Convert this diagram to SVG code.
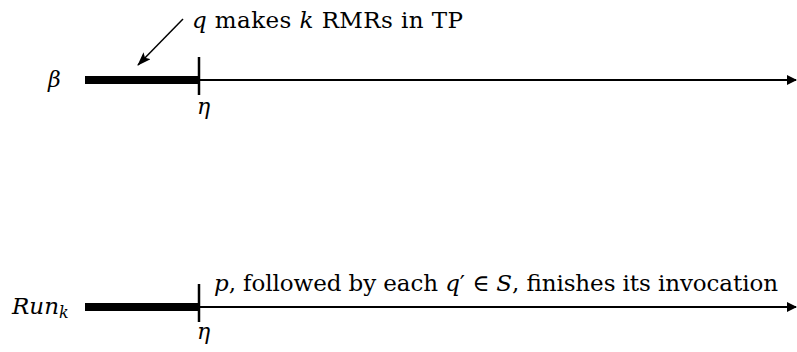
<svg xmlns="http://www.w3.org/2000/svg" width="797" height="352" viewBox="0 0 797 352">
<defs>
<marker id="ah" viewBox="0 0 10 10" refX="9" refY="5" markerWidth="10" markerHeight="10" markerUnits="userSpaceOnUse" orient="auto">
<path d="M0,0 L10,5 L0,10 z" fill="#000"/>
</marker>
<marker id="ah2" viewBox="0 0 14 10" refX="13" refY="5" markerWidth="14" markerHeight="10" markerUnits="userSpaceOnUse" orient="auto">
<path d="M0,0 L14,5 L0,10 L3,5 z" fill="#000"/>
</marker>
</defs>
<style>
.i { font-style: italic; }
.thin { stroke: #000; stroke-width: 2; fill: none; }
.bar { stroke: #000; stroke-width: 8; fill: none; }
.tick { stroke: #000; stroke-width: 2.5; fill: none; }
</style>
<g id="beta-timeline">
<text class="i" x="48" y="87" font-family="DejaVu Serif, serif" font-size="22">β</text>
<line class="bar" x1="85" y1="80" x2="199" y2="80"/>
<line class="tick" x1="199" y1="57" x2="199" y2="95"/>
<text class="i" x="197" y="114" font-family="DejaVu Serif, serif" font-size="22">η</text>
</g>
<g id="run-timeline">
<text class="i" x="12" y="314" font-family="DejaVu Serif, serif" font-size="23">Run<tspan font-size="16" dy="4">k</tspan></text>
<line class="bar" x1="85" y1="307" x2="199" y2="307"/>
<line class="tick" x1="199" y1="284" x2="199" y2="322"/>
<text class="i" x="197" y="339" font-family="DejaVu Serif, serif" font-size="22">η</text>
</g>
<g id="label-top">
<text x="192" y="28" font-family="DejaVu Serif, serif" font-size="23" textLength="271" lengthAdjust="spacing"><tspan class="i">q</tspan> makes <tspan class="i">k</tspan> RMRs in TP</text>
</g>
<g id="label-bottom">
<text x="214" y="291" font-family="DejaVu Serif, serif" font-size="23" textLength="564" lengthAdjust="spacing"><tspan class="i">p</tspan>, followed by each <tspan class="i">q</tspan>′ ∈ <tspan class="i">S</tspan>, finishes its invocation</text>
</g>
<g id="connectors">
<line class="thin" x1="200" y1="80" x2="796" y2="80" marker-end="url(#ah)"/>
<line class="thin" x1="200" y1="307" x2="796" y2="307" marker-end="url(#ah)"/>
<line x1="183" y1="19" x2="138" y2="65" stroke="#000" stroke-width="1.5" marker-end="url(#ah2)"/>
</g>
</svg>
